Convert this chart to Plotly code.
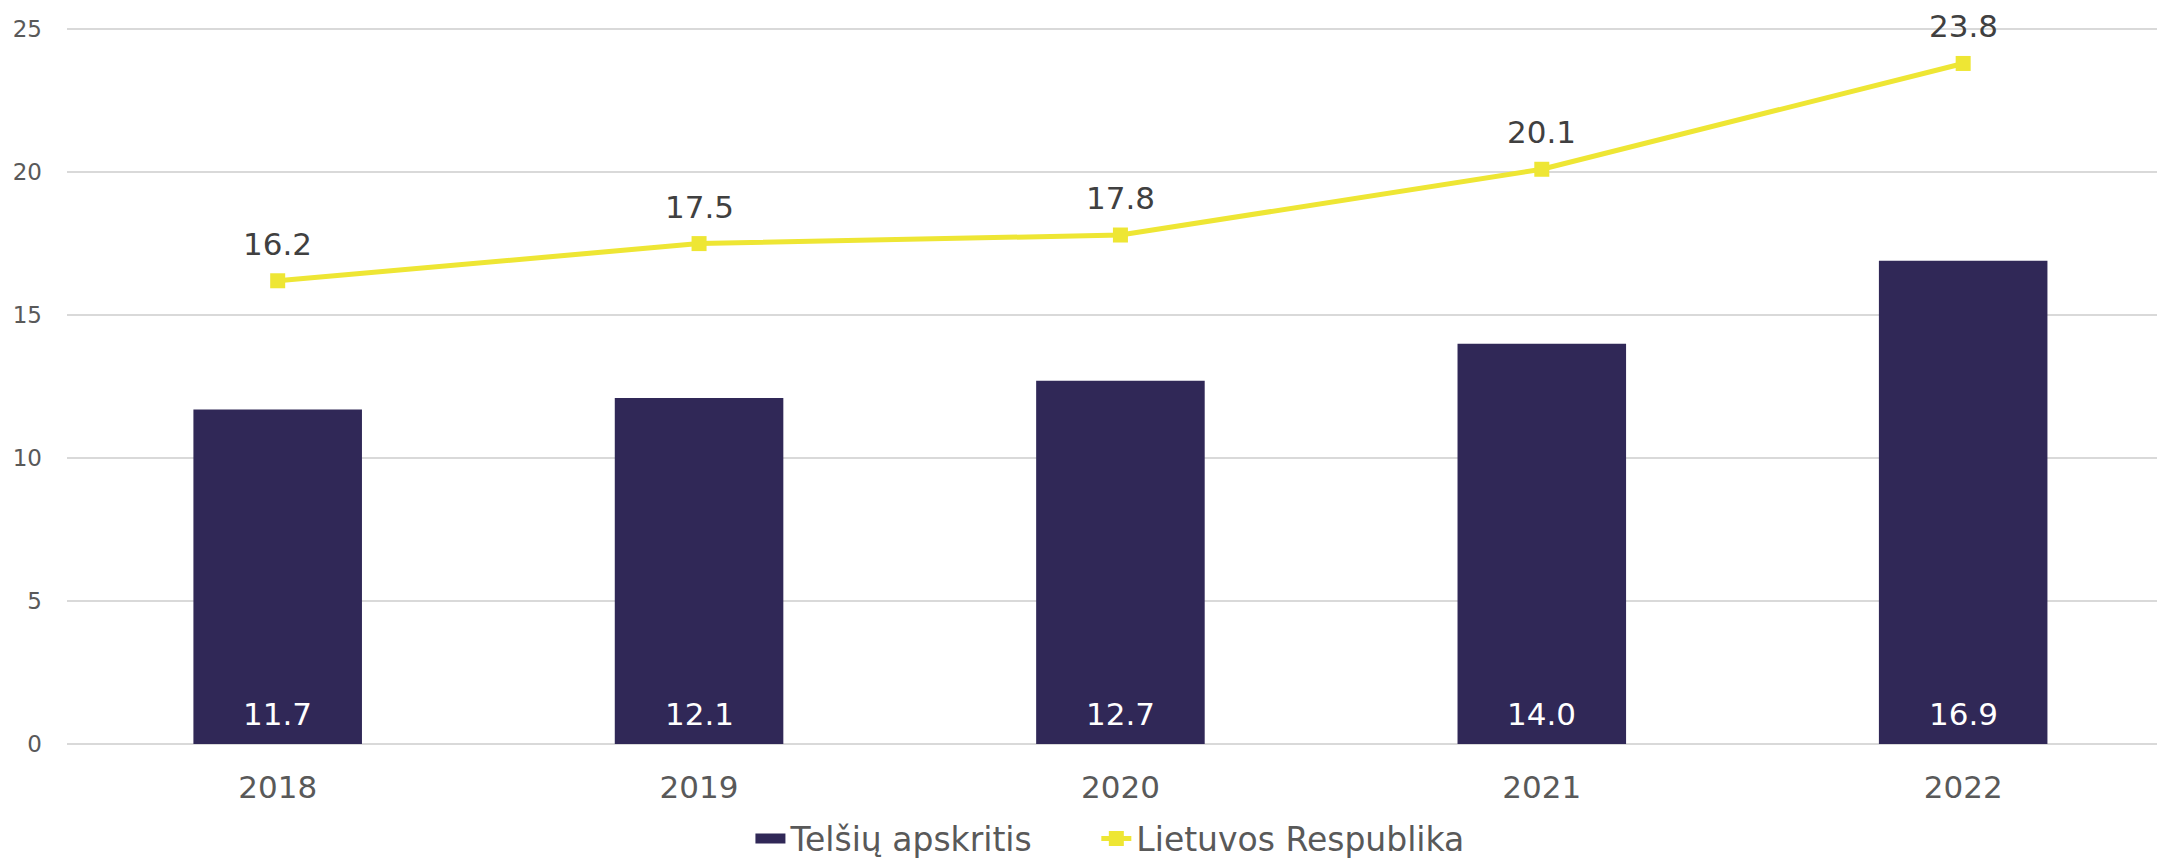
import plotly.graph_objects as go

years = ["2018", "2019", "2020", "2021", "2022"]
telsiai = [11.7, 12.1, 12.7, 14.0, 16.9]
lietuva = [16.2, 17.5, 17.8, 20.1, 23.8]
y_ticks = [0, 5, 10, 15, 20, 25]

FONT = "DejaVu Sans"
BAR_COLOR = "#302857"
LINE_COLOR = "#EEE634"

fig = go.Figure()
fig.add_trace(go.Bar(
    x=years, y=telsiai, name="Telšių apskritis",
    marker=dict(color=BAR_COLOR, line=dict(width=0)),
    width=0.4, showlegend=False,
))
# legend entry mimicking the wide bar swatch
fig.add_trace(go.Scatter(
    x=[None], y=[None], name="Telšių apskritis", mode="lines",
    line=dict(color=BAR_COLOR, width=18), showlegend=True, legend="legend",
))
fig.add_trace(go.Scatter(
    x=years, y=lietuva, name="Lietuvos Respublika",
    mode="lines+markers",
    line=dict(color=LINE_COLOR, width=5),
    marker=dict(symbol="square", size=15, color=LINE_COLOR),
    cliponaxis=False, legend="legend2",
))

# category axis positions (index of each category)
for i, v in enumerate(telsiai):
    fig.add_annotation(x=i, y=0, xref="x", yref="y", text=f"{v:.1f}", showarrow=False,
                       yanchor="middle", yshift=30,
                       font=dict(family=FONT, size=31, color="white"))
for i, v in enumerate(lietuva):
    fig.add_annotation(x=i, y=v, xref="x", yref="y", text=f"{v:.1f}", showarrow=False,
                       yanchor="middle", yshift=37,
                       font=dict(family=FONT, size=31, color="#404040"))

legend_style = dict(orientation="h", yanchor="middle", y=-0.132, xanchor="left",
                    font=dict(family=FONT, size=33, color="#595959"),
                    itemsizing="trace", bgcolor="rgba(0,0,0,0)")

fig.update_layout(
    width=2157, height=858,
    margin=dict(l=67, r=0, t=28, b=114, autoexpand=False),
    paper_bgcolor="white", plot_bgcolor="white",
    font=dict(family=FONT, color="#595959"),
    legend=dict(x=0.327, **legend_style),
    legend2=dict(x=0.4925, **legend_style),
    showlegend=True,
)
fig.update_xaxes(
    type="category", range=[-0.5, 4.46], automargin=False,
    showgrid=False, showline=False, zeroline=False,
    tickfont=dict(family=FONT, size=31, color="#595959"),
    ticks="", ticklabelstandoff=22,
)
fig.update_yaxes(
    range=[0, 25.04], tickvals=y_ticks, ticktext=[str(t) for t in y_ticks],
    automargin=False,
    showgrid=True, gridcolor="#D9D9D9", gridwidth=2,
    zeroline=True, zerolinecolor="#D9D9D9", zerolinewidth=2,
    showline=False,
    tickfont=dict(family=FONT, size=23, color="#595959"),
    ticks="", ticklabelstandoff=24,
)

fig.write_html(
    "out.html",
    config={"displayModeBar": False},
    post_script="document.body.style.margin='0';document.body.style.overflow='hidden';",
)
